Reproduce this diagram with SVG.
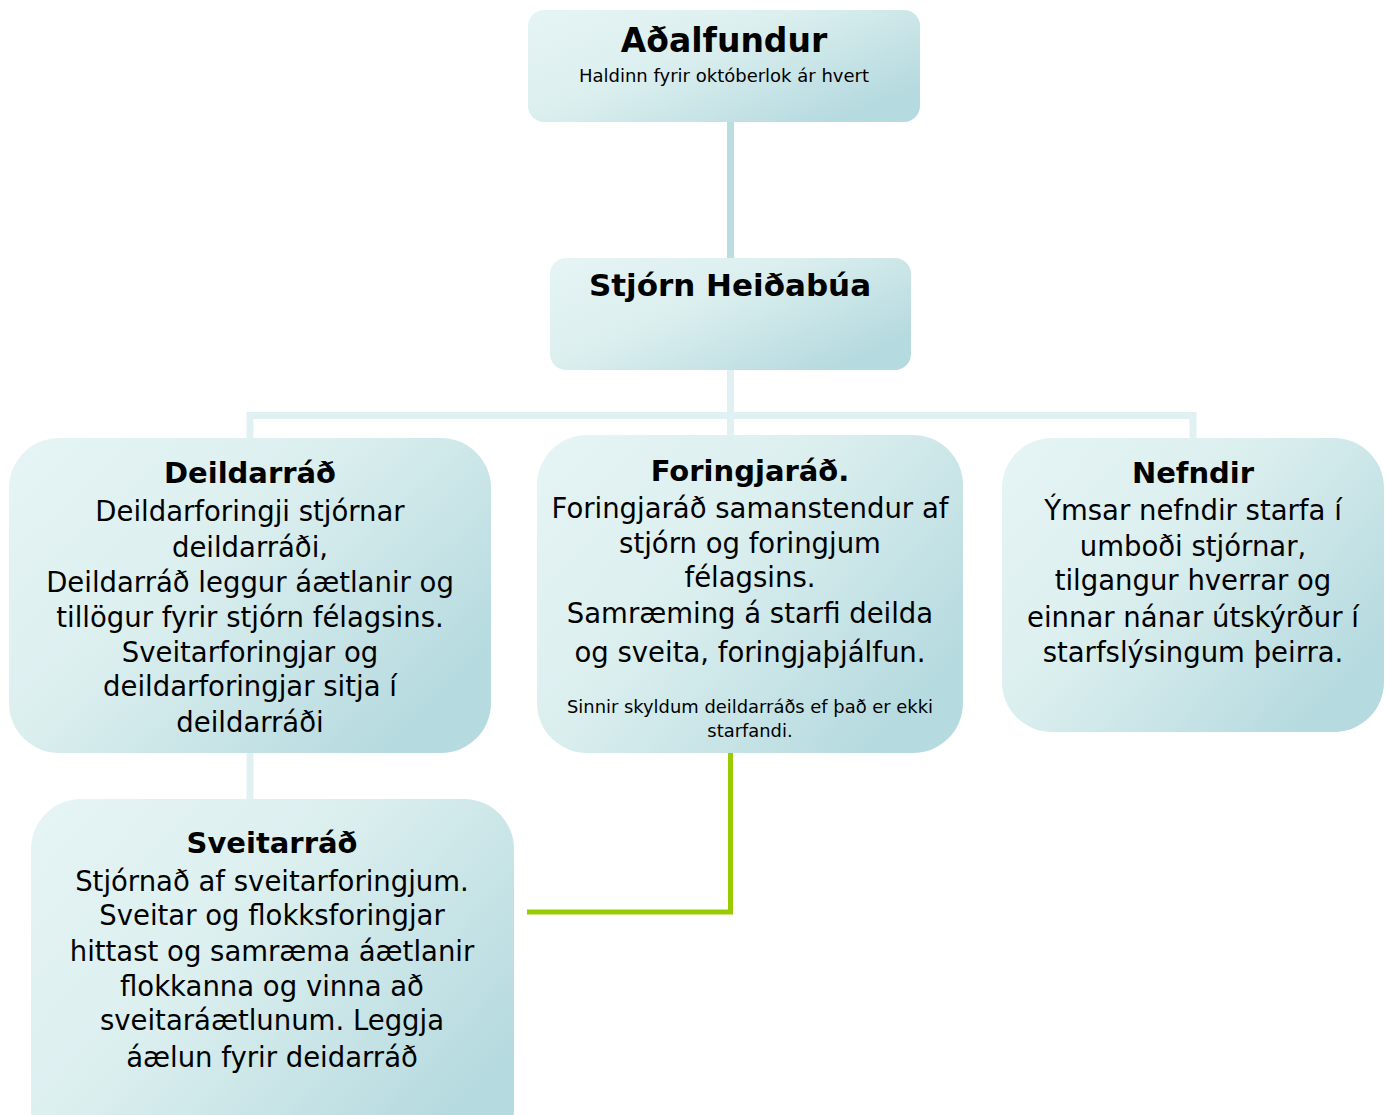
<svg xmlns="http://www.w3.org/2000/svg" width="1385" height="1115" viewBox="0 0 1385 1115">
<style>
.box{fill:url(#g)}
text{font-family:"DejaVu Sans","Liberation Sans",sans-serif;fill:#000;text-anchor:middle}
.t{font-weight:bold;font-size:29px}
.b{font-size:27.5px}
.s{font-size:17.9px}
.c1{stroke:#b9dde0;stroke-width:7;fill:none}
.c2{stroke:#e1f1f3;stroke-width:7;fill:none}
.gr{stroke:#99cc00;stroke-width:5;fill:none}
</style>
<defs>
<linearGradient id="g" x1="0" y1="0" x2="1" y2="0.7">
<stop offset="0" stop-color="#e6f4f5"/>
<stop offset="0.45" stop-color="#dcefef"/>
<stop offset="1" stop-color="#b5dadf"/>
</linearGradient>
</defs>
<g id="connectors">
<path class="c1" d="M730.5 122V258"/>
<path class="c2" d="M730.5 370V436M250 438V415.5H1193V438M250 753V800"/>
<path class="gr" d="M730.5 753V912H527"/>
</g>
<g id="aoalfundur">
<rect class="box" x="528" y="10" width="392" height="112" rx="16"/>
<text x="724" y="52" style="font-weight:bold;font-size:33px">Aðalfundur</text>
<text x="724" y="82" style="font-size:18px">Haldinn fyrir októberlok ár hvert</text>
</g>
<g id="stjorn">
<rect class="box" x="550" y="258" width="361" height="112" rx="16"/>
<text x="730" y="296" style="font-weight:bold;font-size:31px">Stjórn Heiðabúa</text>
</g>
<g id="deildarrad">
<rect class="box" x="9" y="438" width="482" height="315" rx="50"/>
<text class="t" x="250" y="483">Deildarráð</text>
<text class="b" x="250" y="521">Deildarforingji stjórnar</text>
<text class="b" x="250" y="557">deildarráði,</text>
<text class="b" x="250" y="592">Deildarráð leggur áætlanir og</text>
<text class="b" x="250" y="627">tillögur fyrir stjórn félagsins.</text>
<text class="b" x="250" y="662">Sveitarforingjar og</text>
<text class="b" x="250" y="696">deildarforingjar sitja í</text>
<text class="b" x="250" y="732">deildarráði</text>
</g>
<g id="foringjarad">
<rect class="box" x="537" y="435" width="426" height="318" rx="50"/>
<text class="t" x="750" y="481">Foringjaráð.</text>
<text class="b" x="750" y="518">Foringjaráð samanstendur af</text>
<text class="b" x="750" y="553">stjórn og foringjum</text>
<text class="b" x="750" y="587">félagsins.</text>
<text class="b" x="750" y="623">Samræming á starfi deilda</text>
<text class="b" x="750" y="662">og sveita, foringjaþjálfun.</text>
<text class="s" x="750" y="713">Sinnir skyldum deildarráðs ef það er ekki</text>
<text class="s" x="750" y="737">starfandi.</text>
</g>
<g id="nefndir">
<rect class="box" x="1002" y="438" width="382" height="294" rx="50"/>
<text class="t" x="1193" y="483">Nefndir</text>
<text class="b" x="1193" y="520">Ýmsar nefndir starfa í</text>
<text class="b" x="1193" y="556">umboði stjórnar,</text>
<text class="b" x="1193" y="590">tilgangur hverrar og</text>
<text class="b" x="1193" y="627">einnar nánar útskýrður í</text>
<text class="b" x="1193" y="662">starfslýsingum þeirra.</text>
</g>
<g id="sveitarrad">
<rect class="box" x="31" y="799" width="483" height="360" rx="50"/>
<text class="t" x="272" y="853">Sveitarráð</text>
<text class="b" x="272" y="891">Stjórnað af sveitarforingjum.</text>
<text class="b" x="272" y="925">Sveitar og flokksforingjar</text>
<text class="b" x="272" y="961">hittast og samræma áætlanir</text>
<text class="b" x="272" y="996">flokkanna og vinna að</text>
<text class="b" x="272" y="1030">sveitaráætlunum. Leggja</text>
<text class="b" x="272" y="1067">áælun fyrir deidarráð</text>
</g>
</svg>
